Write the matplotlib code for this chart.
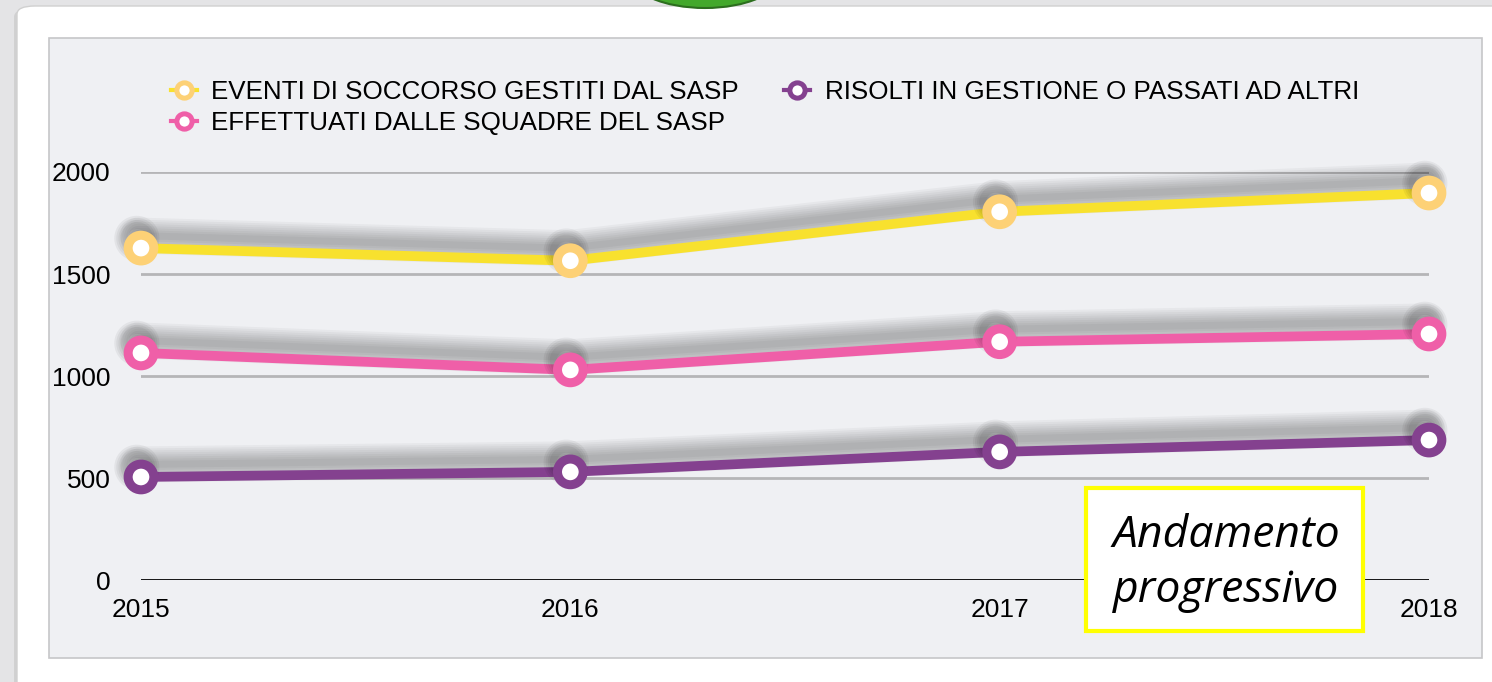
import matplotlib
matplotlib.use("Agg")
import matplotlib.pyplot as plt
import matplotlib.patheffects as pe
from matplotlib.lines import Line2D
from matplotlib.patches import FancyBboxPatch, Rectangle, Ellipse

# values
years = [2015, 2016, 2017, 2018]
eventi = [1627, 1565, 1805, 1897]
effettuati = [1113, 1030, 1168, 1206]
risolti = [505, 530, 628, 686]
yticks = [0, 500, 1000, 1500, 2000]

labels = ["EVENTI DI SOCCORSO GESTITI DAL SASP",
          "EFFETTUATI DALLE SQUADRE DEL SASP",
          "RISOLTI IN GESTIONE O PASSATI AD ALTRI"]
line_cols = ["#f8e12e", "#ef5fa8", "#84418f"]
ring_cols = ["#fdd176", "#ef5fa8", "#84418f"]

W, H = 1492, 682
fig = plt.figure(figsize=(W / 100, H / 100), dpi=100)
fig.patch.set_facecolor("#e4e4e6")

def px(x, y, w, h):
    # pixel box (top-left origin) -> figure fraction
    return (x / W, 1 - (y + h) / H, w / W, h / H)

# slide card + green tab + chart panel
x0, y0, w0, h0 = px(17, 6, 1500, 700)
fig.patches.append(FancyBboxPatch((x0 - 0.002, y0 - 0.004), w0, h0,
                                  boxstyle="round,pad=0,rounding_size=0.012",
                                  transform=fig.transFigure, fc="#c4c4c4", ec="none", alpha=0.6, zorder=0))
fig.patches.append(FancyBboxPatch((x0, y0), w0, h0,
                                  boxstyle="round,pad=0,rounding_size=0.012",
                                  transform=fig.transFigure, fc="white", ec="#d0d0d0", lw=1, zorder=0.1))
fig.patches.append(Ellipse((705 / W, 1 - (-25) / H), 150 / W, 66 / H,
                           transform=fig.transFigure, fc="#43a82c", ec="#2c6e1e", lw=1.5, zorder=0.2))
x1, y1, w1, h1 = px(49, 38, 1433, 620)
fig.patches.append(Rectangle((x1, y1), w1, h1, transform=fig.transFigure,
                             fc="#eff0f3", ec="#c6c6c8", lw=1.2, zorder=0.3))

ax = fig.add_axes(px(141, 172, 1288, 408))
ax.set_facecolor("none")
ax.set_zorder(1)
ax.set_xlim(years[0], years[-1])
ax.set_ylim(0, 2000)
for s in ax.spines.values():
    s.set_visible(False)

for v in yticks[1:]:
    ax.axhline(v, color="#b5b5b7", lw=2, zorder=1)
ax.axhline(0, color="black", lw=2, zorder=1, xmin=-0.002)

ax.set_yticks(yticks)
ax.set_xticks(years)
ax.tick_params(length=0, labelsize=19)
ax.tick_params(axis="y", pad=22)
ax.tick_params(axis="x", pad=13)
for t in ax.get_xticklabels() + ax.get_yticklabels():
    t.set_fontfamily("Liberation Sans")

line_shadow = [pe.SimpleLineShadow(offset=(-2, 9), shadow_color="black", alpha=0.035, linewidth=w)
               for w in range(26, 4, -3)] + [pe.Normal()]
mark_shadow = [pe.SimpleLineShadow(offset=(-3, 7), shadow_color="black", alpha=0.05, linewidth=w)
               for w in range(14, 4, -3)] + [pe.Normal()]

for vals, lc, rc in zip([eventi, effettuati, risolti], line_cols, ring_cols):
    ax.plot(years, vals, color=lc, lw=7, solid_capstyle="round", zorder=3,
            clip_on=False, path_effects=line_shadow)
    ax.plot(years, vals, ls="none", marker="o", ms=18.5, mew=6.5, mfc="white", mec=rc,
            zorder=4, clip_on=False, path_effects=mark_shadow)

handles = [Line2D([], [], color=lc, lw=3, marker="o", ms=11, mew=3.6, mfc="white", mec=rc)
           for lc, rc in zip(line_cols, ring_cols)]
fig.legend(handles, labels, ncols=2, loc="upper left", bbox_to_anchor=(171 / W, 1 - 80 / H),
           frameon=False, handlelength=1.0, handletextpad=0.55, columnspacing=1.75,
           labelspacing=0.28, borderpad=0, borderaxespad=0,
           prop={"family": "Liberation Sans", "size": 18.7})

# note box
fig.patches.append(Rectangle(px(1086, 488, 277, 143)[:2], 277 / W, 143 / H,
                             transform=fig.transFigure, fc="white", ec="#ffff00", lw=3, zorder=5))
fig.text(1226 / W, 1 - 563 / H, "Andamento\nprogressivo",
         ha="center", va="center", fontsize=32, style="italic", family="Open Sans",
         linespacing=1.3, zorder=6)

fig.savefig("out.png", dpi=100, facecolor=fig.get_facecolor())
